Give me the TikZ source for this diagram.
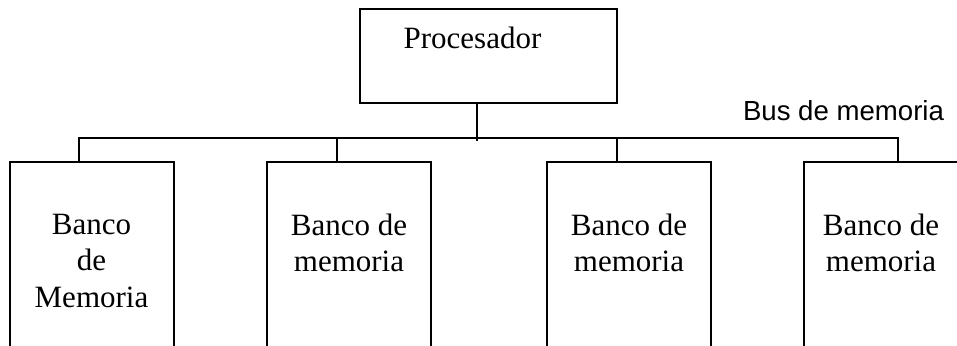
\documentclass[tikz,border=0pt]{standalone}
\usepackage{fontspec}
\setmainfont{Liberation Serif}
\newfontfamily\busfont{Liberation Sans}
\usetikzlibrary{positioning,calc}
\tikzset{
  procblk/.style={draw, line width=1pt, minimum width=128.5pt, minimum height=47pt, inner sep=0pt},
  bankblk/.style={draw, line width=1pt, minimum width=82pt, minimum height=125pt,
                  inner sep=0pt, anchor=north},
  lbl/.style={font=\fontsize{15.5}{18.25}\selectfont, align=center, inner sep=0pt},
  buslbl/.style={font=\busfont\fontsize{13.8}{16}\selectfont, inner sep=0pt},
  wire/.style={line width=1pt}
}

\begin{document}
\begin{tikzpicture}[x=0.5pt, y=-0.5pt]
\useasboundingbox (0,0) rectangle (957,345);
\clip (0,0) rectangle (957,345);
% processor
\node[procblk] (proc) at (488.5,56) {};
\node[lbl, anchor=base] (procLbl) at (472.5,48) {Procesador};
% memory banks (run past the bottom edge)
\node[bankblk] (bank1) at (91.5,161) {};
\node[bankblk] (bank2) at (349,161) {};
\node[bankblk] (bank3) at (629,161) {};
\node[bankblk] (bank4) at (886,161) {};
\node[lbl] (bank1Lbl) at (91.5,260.5) {Banco\\de\\Memoria};
\node[lbl] (bank2Lbl) at (349,243) {Banco de\\memoria};
\node[lbl] (bank3Lbl) at (629,243) {Banco de\\memoria};
\node[lbl] (bank4Lbl) at (881,243) {Banco de\\memoria};
% bus taps
\coordinate (b1) at (79,138);
\coordinate (b2) at (337,138);
\coordinate (b3) at (617,138);
\coordinate (b4) at (898,138);
\coordinate (tap) at (477,141);
\draw[wire] (bank1.north -| b1) -- (b1) -- (b4) -- (bank4.north -| b4);
\foreach \i in {2,3} \draw[wire] (b\i) -- (bank\i.north -| b\i);
\draw[wire] (proc.south -| tap) -- (tap);
\node[buslbl, anchor=base] (busLbl) at (843.5,120) {Bus de memoria};
\end{tikzpicture}
\end{document}
